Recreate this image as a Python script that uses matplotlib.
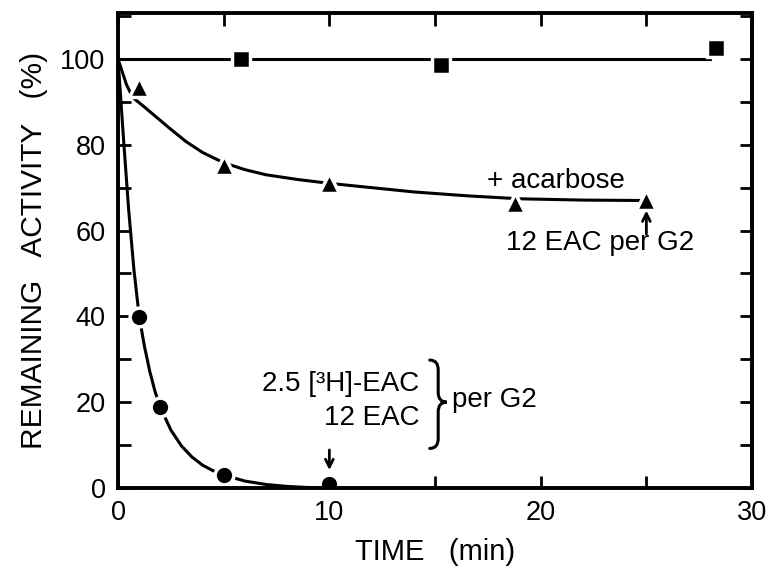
import matplotlib
matplotlib.use("Agg")
import matplotlib.pyplot as plt
from matplotlib.ticker import MultipleLocator
from matplotlib.path import Path
from matplotlib.patches import PathPatch

plt.rcParams['font.family'] = ['Liberation Sans', 'DejaVu Sans']

# --- data ---
sq_x = [5.8, 15.3, 28.3]
sq_y = [100.0, 98.6, 102.6]
sq_line_x = [0, 28.0]
sq_line_y = [100, 100]

tri_x = [1.0, 5.0, 10.0, 18.8, 25.0]
tri_y = [93.5, 75.2, 71.0, 66.5, 67.2]
tri_curve_x = [0, 0.4, 0.7, 1.2, 1.8, 2.5, 3.2, 4.0, 5.0, 6.0, 7.0, 8.5, 10.0, 12.0, 14.0, 16.5, 19.0, 22.0, 25.0]
tri_curve_y = [100, 94, 91, 89, 86.5, 83.6, 80.8, 78.2, 75.8, 74.2, 73.0, 71.9, 71.0, 70.0, 69.0, 68.1, 67.4, 67.1, 67.0]

circ_x = [1.0, 2.0, 5.0, 10.0]
circ_y = [39.8, 18.8, 3.0, 1.0]
circ_err_low = [0, 0, 3.0, 0]
circ_curve_x = [0, 0.25, 0.5, 0.75, 1.0, 1.25, 1.5, 1.75, 2.0, 2.5, 3.0, 3.5, 4.0, 4.5, 5.0, 6.0, 7.0, 8.0, 9.0, 10.0]
circ_curve_y = [100, 82, 65, 51, 40, 33, 27.2, 22.5, 18.8, 13.5, 9.8, 7.2, 5.3, 4.0, 3.0, 1.6, 0.8, 0.35, 0.1, 0]

x_ticks_major = [0, 10, 20, 30]
y_ticks_major = [0, 20, 40, 60, 80, 100]

fig = plt.figure(figsize=(7.74, 5.68), dpi=100)
ax = fig.add_axes([0.1525, 0.141, 0.8191, 0.836])
ax.set_xlim(0, 30)
ax.set_ylim(0, 110.7)

lw = 2.2
# curves
ax.plot(sq_line_x, sq_line_y, color='black', lw=lw, zorder=2)
ax.plot(tri_curve_x, tri_curve_y, color='black', lw=lw, zorder=2)
ax.plot(circ_curve_x, circ_curve_y, color='black', lw=lw, zorder=2)

# markers with white edge to create gaps in lines
ax.plot(sq_x, sq_y, ls='none', marker='s', ms=13.5, mfc='black', mec='white', mew=2.5, zorder=3)
ax.plot(tri_x, tri_y, ls='none', marker='^', ms=14.5, mfc='black', mec='white', mew=2.5, zorder=3)
ax.errorbar(circ_x, circ_y, yerr=[circ_err_low, [0]*len(circ_x)], fmt='none', ecolor='black', elinewidth=1.8, capsize=0, zorder=2)
ax.plot(circ_x, circ_y, ls='none', marker='o', ms=13.5, mfc='black', mec='white', mew=2.5, zorder=3)

# axes styling
for s in ax.spines.values():
    s.set_linewidth(2.8)
    s.set_zorder(4)
ax.xaxis.set_minor_locator(MultipleLocator(5))
ax.yaxis.set_minor_locator(MultipleLocator(10))
ax.set_xticks(x_ticks_major)
ax.set_yticks(y_ticks_major)
ax.tick_params(which='both', direction='in', top=True, right=True, length=9, width=2.0)
ax.tick_params(axis='y', which='major', labelsize=19.5, pad=9)
ax.tick_params(axis='x', which='major', labelsize=19.5, pad=9)

ax.set_xlabel('TIME   (min)', fontsize=21, labelpad=8)
ax.set_ylabel('REMAINING   ACTIVITY   (%)', fontsize=21.5, labelpad=9)

# annotations
fs = 20
ax.text(20.7, 71.6, '+ acarbose', fontsize=fs, ha='center', va='center')
ax.annotate('', xy=(25.0, 65.3), xytext=(25.0, 58.5),
            arrowprops=dict(arrowstyle='->', lw=2, color='black', mutation_scale=14))
ax.text(22.8, 57, '12 EAC per G2', fontsize=fs, ha='center', va='center')

ax.text(14.25, 24.3, '2.5 [³H]-EAC', fontsize=fs, ha='right', va='center')
ax.text(14.25, 16.4, '12 EAC', fontsize=fs, ha='right', va='center')
ax.text(15.8, 20.6, 'per G2', fontsize=fs, ha='left', va='center')

# curly brace
x0, xm, xt = 14.75, 15.15, 15.55
ytop, ybot, ymid, r = 29.8, 9.2, 20.0, 2.3
verts = [(x0, ytop), (xm, ytop), (xm, ytop - r), (xm, ymid + r),
         (xm, ymid), (xt, ymid), (xm, ymid), (xm, ymid - r),
         (xm, ybot + r), (xm, ybot), (x0, ybot)]
codes = [Path.MOVETO, Path.CURVE3, Path.CURVE3, Path.LINETO,
         Path.CURVE3, Path.CURVE3, Path.CURVE3, Path.CURVE3,
         Path.LINETO, Path.CURVE3, Path.CURVE3]
ax.add_patch(PathPatch(Path(verts, codes), fill=False, lw=2.2, color='black', capstyle='round'))

ax.annotate('', xy=(10.0, 3.5), xytext=(10.0, 9.5),
            arrowprops=dict(arrowstyle='->', lw=2, color='black', mutation_scale=14))

fig.savefig('out.png', dpi=100)
